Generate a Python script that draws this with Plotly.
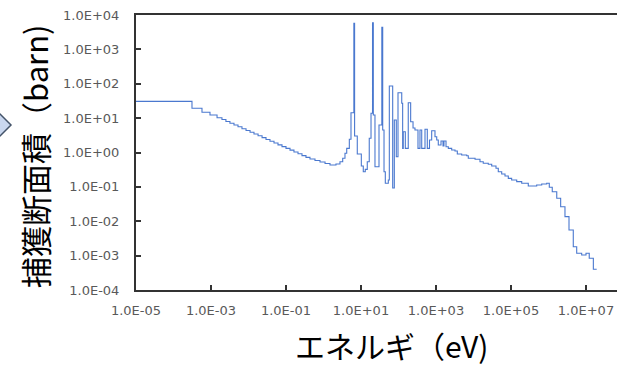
import plotly.graph_objects as go

# Group lower-bound energies (eV) and capture cross sections (barn)
energy_ev = [
    1.0e-5, 3.11e-4, 5.75e-4, 9.4e-4, 1.45e-3, 1.96e-3, 2.5e-3, 3.2e-3, 4.1e-3, 5.25e-3,
    6.7e-3, 8.6e-3, 1.1e-2, 1.4e-2, 1.8e-2, 2.3e-2, 2.93e-2, 3.74e-2, 4.79e-2, 6.12e-2,
    7.82e-2, 0.1, 0.128, 0.163, 0.209, 0.267, 0.341, 0.436, 0.593, 0.807,
    1.10, 1.49, 2.15, 2.75, 3.25, 3.74, 4.16, 4.88, 5.41, 6.45,
    6.75, 7.96, 10.2, 11.5, 13.0, 14.7, 16.6, 18.5, 20.3, 21.3,
    23.6, 30.2, 35.9, 37.9, 41.1, 44.5, 53.5, 56.9, 70.0, 77.3,
    87.3, 97.0, 122, 129, 134, 152, 182, 211, 244, 275,
    331, 374, 416, 509, 586, 671, 767, 940, 1045, 1150,
    1360, 1540, 1630, 1850, 2130, 2620, 3210, 3700, 4840, 6590,
    7260, 1.10e4, 1.49e4, 1.82e4, 2.48e4, 3.06e4, 3.98e4, 4.58e4, 5.65e4, 6.92e4,
    8.47e4, 1.04e5, 1.42e5, 1.93e5, 2.89e5, 4.84e5, 6.59e5, 8.95e5, 1.05e6, 1.26e6,
    1.66e6, 2.11e6, 2.75e6, 3.52e6, 4.58e6, 5.65e6, 7.67e6, 1.0e7, 1.22e7, 1.57e7,
    1.93e7,
]
sigma_barn = [
    30.8, 19.3, 14.8, 12.3, 10.3, 9.12, 7.98, 7.07, 6.31, 5.59,
    4.92, 4.36, 3.87, 3.45, 3.06, 2.70, 2.39, 2.12, 1.89, 1.67,
    1.48, 1.32, 1.17, 1.03, 0.917, 0.813, 0.720, 0.647, 0.585, 0.530,
    0.479, 0.433, 0.462, 0.540, 0.678, 0.948, 1.32, 2.42, 14.4, 5740,
    3.02, 0.904, 0.405, 0.276, 0.324, 0.540, 2.59, 13.8, 5970, 12.3,
    0.386, 6.31, 4390, 4.52, 0.276, 0.127, 0.158, 86.0, 0.0927, 8.82,
    0.755, 54.9, 27.0, 1.32, 4.03, 1.32, 28.1, 7.87, 5.16, 4.52,
    1.32, 4.52, 1.32, 4.73, 1.32, 2.31, 4.31, 2.88, 2.31, 1.65,
    2.16, 1.55, 2.16, 1.47, 1.32, 1.18, 1.11, 0.904, 0.845, 0.807,
    0.678, 0.634, 0.540, 0.485, 0.454, 0.405, 0.347, 0.276, 0.237, 0.207,
    0.177, 0.158, 0.142, 0.127, 0.106, 0.113, 0.121, 0.127, 0.0973, 0.0724,
    0.0466, 0.0265, 0.0136, 0.00556, 0.00182, 0.00117, 0.00104, 0.00117, 0.000836, 0.000400,
    0.000400,
]

x_tick_vals = [1e-5, 1e-3, 1e-1, 1e1, 1e3, 1e5, 1e7]
x_tick_text = ["1.0E-05", "1.0E-03", "1.0E-01", "1.0E+01", "1.0E+03", "1.0E+05", "1.0E+07"]
y_tick_vals = [1e-4, 1e-3, 1e-2, 1e-1, 1e0, 1e1, 1e2, 1e3, 1e4]
y_tick_text = ["1.0E-04", "1.0E-03", "1.0E-02", "1.0E-01", "1.0E+00",
               "1.0E+01", "1.0E+02", "1.0E+03", "1.0E+04"]

x_title = "エネルギ（eV)"
y_title = "捕獲断面積（barn)"

W, H = 617, 368
L, R, T, B = 136, 0, 15, 78
pw, ph = W - L - R, H - T - B


def px(xp):
    return (xp - L) / pw


def py(yp):
    return (H - B - yp) / ph


fig = go.Figure()
fig.add_trace(go.Scatter(
    x=energy_ev, y=sigma_barn, mode="lines", line_shape="hv",
    line=dict(color="#4a78cf", width=1.1), showlegend=False, hoverinfo="x+y",
))

tickfont = dict(family="DejaVu Sans", size=13, color="#595959")
fig.update_xaxes(
    type="log", range=[-5, -5 + pw / 37.5], tickvals=x_tick_vals, ticktext=x_tick_text,
    showline=True, linecolor="#333333", linewidth=2, mirror=True,
    ticks="inside", ticklen=5, tickwidth=1.5, tickcolor="#333333",
    showgrid=False, zeroline=False, tickfont=tickfont, ticklabelstandoff=7,
    automargin=False,
)
fig.update_yaxes(
    type="log", range=[-4, 4], tickvals=y_tick_vals, ticktext=y_tick_text,
    showline=True, linecolor="#333333", linewidth=2,
    ticks="inside", ticklen=5, tickwidth=1.5, tickcolor="#333333",
    showgrid=False, zeroline=False, tickfont=tickfont, ticklabelstandoff=12,
    automargin=False,
)

fig.add_annotation(text=x_title, xref="paper", yref="paper", x=px(391), y=py(367.5),
                   showarrow=False, xanchor="center", yanchor="bottom", borderpad=0,
                   font=dict(family="Noto Sans CJK JP", size=30, color="#000000"))
fig.add_annotation(text=y_title, xref="paper", yref="paper", x=px(34), y=py(156),
                   showarrow=False, textangle=-90, xanchor="center", yanchor="middle",
                   font=dict(family="Noto Sans CJK JP", size=31, color="#000000"))

# partial arrow (chevron) at the left edge
path = "M {x0},{y0} L {x1},{y1} L {x2},{y2} Z".format(
    x0=px(-2), y0=py(112), x1=px(11), y1=py(125), x2=px(-2), y2=py(138))
fig.add_shape(type="path", path=path, xref="paper", yref="paper",
              fillcolor="#c9d7ef", line=dict(color="#44546a", width=1.5), layer="above")

fig.update_layout(
    width=W, height=H, margin=dict(l=L, r=R, t=T, b=B, pad=0, autoexpand=False),
    paper_bgcolor="white", plot_bgcolor="white",
)

fig.write_html("out.html", config={"displayModeBar": False},
               post_script="document.body.style.margin='0';document.body.style.padding='0';")
